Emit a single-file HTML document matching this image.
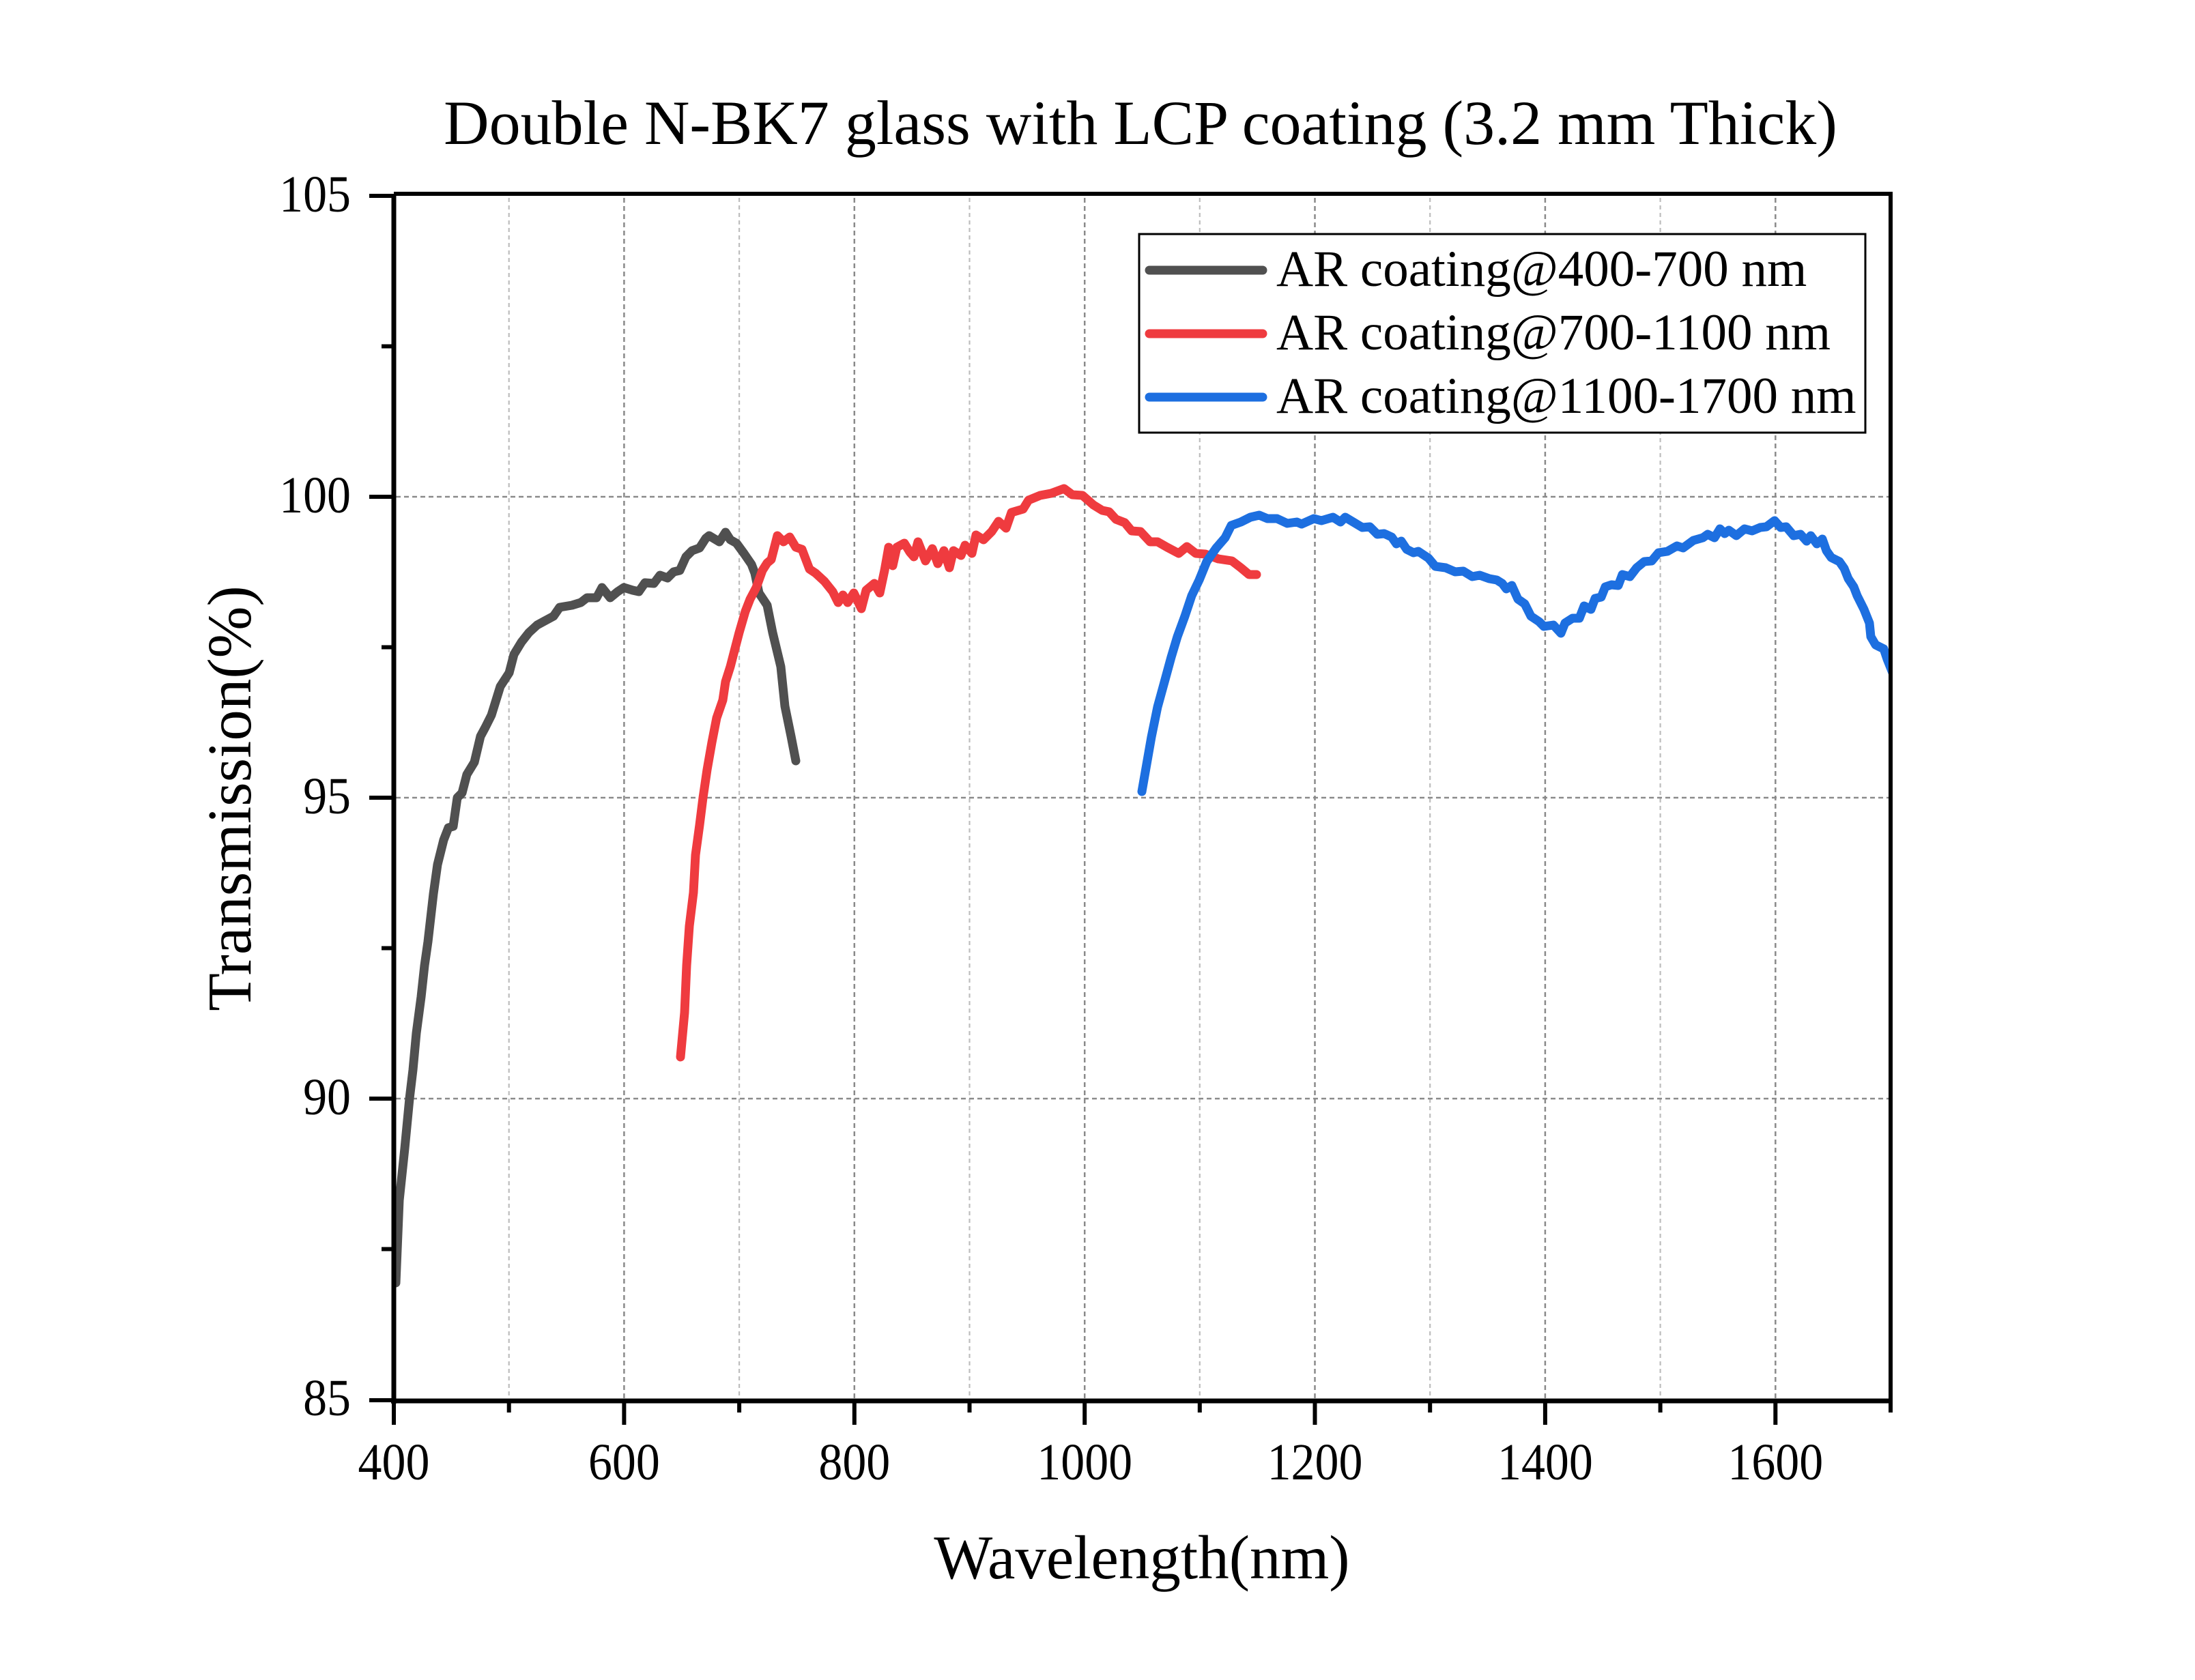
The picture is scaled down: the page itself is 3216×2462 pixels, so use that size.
<!DOCTYPE html>
<html>
<head>
<meta charset="utf-8">
<style>
html,body{margin:0;padding:0;background:#fff;}
svg{display:block;}
text{font-family:"Liberation Serif","Times New Roman",serif;fill:#000;}
</style>
</head>
<body>
<svg width="3216" height="2462" viewBox="0 0 3216 2462" xmlns="http://www.w3.org/2000/svg">
<rect x="0" y="0" width="3216" height="2462" fill="#fff"/>
<defs>
<clipPath id="pc"><rect x="577" y="287" width="2193" height="1766"/></clipPath>
</defs>

<!-- minor vertical grid -->
<g stroke="#bdbdbd" stroke-width="2.2" stroke-dasharray="6,5" fill="none">
<line x1="745.7" y1="290" x2="745.7" y2="2050"/>
<line x1="1083.1" y1="290" x2="1083.1" y2="2050"/>
<line x1="1420.5" y1="290" x2="1420.5" y2="2050"/>
<line x1="1757.8" y1="290" x2="1757.8" y2="2050"/>
<line x1="2095.2" y1="290" x2="2095.2" y2="2050"/>
<line x1="2432.6" y1="290" x2="2432.6" y2="2050"/>
</g>
<!-- major grid -->
<g stroke="#8a8a8a" stroke-width="2.5" stroke-dasharray="7,5" fill="none">
<line x1="914.4" y1="290" x2="914.4" y2="2050"/>
<line x1="1251.8" y1="290" x2="1251.8" y2="2050"/>
<line x1="1589.2" y1="290" x2="1589.2" y2="2050"/>
<line x1="1926.5" y1="290" x2="1926.5" y2="2050"/>
<line x1="2263.9" y1="290" x2="2263.9" y2="2050"/>
<line x1="2601.3" y1="290" x2="2601.3" y2="2050"/>
<line x1="580" y1="728" x2="2767" y2="728"/>
<line x1="580" y1="1169" x2="2767" y2="1169"/>
<line x1="580" y1="1610" x2="2767" y2="1610"/>
</g>

<!-- series -->
<g fill="none" stroke-width="13" stroke-linejoin="round" stroke-linecap="round">
<polyline stroke="#505050" points="580,1880 585,1759 593,1683 600,1610 605,1568 610,1514 617,1461 622,1415 627,1380 635,1310 641,1267 650,1231 657,1213 664,1211 670,1169 677,1162 684,1135 695,1117 704,1079 711,1066 720,1048 733,1006 746,986 753,959 764,941 775,927 787,916 798,910 811,903 820,890 838,887 851,883 860,876 874,876 882,861 894,876 905,867 914,861 927,865 936,867 945,854 958,855 967,843 978,847 987,838 996,836 1005,816 1014,807 1025,803 1034,789 1039,785 1054,794 1063,780 1070,791 1079,796 1090,811 1101,827 1106,840 1112,869 1124,887 1132,927 1144,977 1150,1035 1159,1079 1166,1115"/>
<polyline stroke="#ef3b3f" points="997,1549 1003,1484 1006,1415 1010,1357 1016,1308 1019,1253 1025,1209 1030,1169 1036,1128 1043,1088 1050,1052 1059,1026 1063,999 1070,977 1077,950 1083,927 1092,896 1099,878 1108,861 1117,836 1124,825 1130,820 1139,785 1148,794 1157,787 1166,802 1175,805 1186,834 1195,840 1208,852 1220,867 1228,883 1235,872 1242,883 1251,869 1262,892 1269,865 1281,855 1289,869 1296,836 1302,802 1308,829 1314,802 1325,796 1333,809 1339,816 1345,794 1356,822 1366,804 1374,826 1383,807 1391,832 1397,807 1408,814 1414,799 1424,811 1430,784 1441,791 1453,779 1463,764 1474,774 1482,751 1499,746 1507,733 1524,726 1540,723 1559,716 1571,725 1586,726 1602,740 1615,748 1625,750 1635,761 1648,766 1658,778 1671,779 1685,794 1696,794 1710,802 1727,811 1739,801 1752,811 1766,812 1785,819 1805,822 1818,832 1830,842 1841,842"/>
<polyline clip-path="url(#pc)" stroke="#1d6fe0" points="1673,1160 1680,1120 1687,1080 1696,1036 1707,996 1716,963 1725,933 1736,903 1746,873 1757,850 1768,823 1782,803 1795,788 1804,770 1818,765 1832,758 1845,755 1857,760 1871,760 1886,767 1900,765 1907,768 1925,760 1936,763 1953,758 1964,765 1971,758 1986,767 1996,773 2007,772 2018,783 2028,782 2039,787 2046,797 2053,793 2061,805 2071,810 2078,808 2093,818 2103,830 2118,832 2132,838 2144,837 2157,845 2168,843 2182,848 2193,850 2201,855 2207,863 2215,858 2224,878 2234,885 2243,903 2255,911 2262,918 2276,916 2287,928 2293,913 2304,906 2314,906 2321,888 2331,893 2337,877 2346,875 2352,860 2361,857 2371,858 2377,842 2388,845 2398,832 2409,823 2420,822 2430,810 2443,808 2457,800 2466,803 2481,792 2495,788 2502,783 2512,788 2520,775 2527,782 2533,777 2544,785 2556,775 2567,778 2579,773 2588,772 2600,763 2609,773 2617,772 2628,785 2638,783 2647,793 2653,785 2662,797 2670,790 2676,807 2683,817 2695,823 2702,833 2708,848 2716,860 2721,873 2731,893 2739,913 2741,933 2748,945 2760,951 2765,966 2773,986 2780,1005"/>
</g>

<!-- axes -->
<g stroke="#000" fill="none">
<line x1="577" y1="284" x2="2773" y2="284" stroke-width="6"/>
<line x1="2770" y1="284" x2="2770" y2="2056" stroke-width="6"/>
<line x1="577" y1="284" x2="577" y2="2057" stroke-width="7"/>
<line x1="573" y1="2053" x2="2773" y2="2053" stroke-width="7"/>
<g stroke-width="6">
<line x1="577" y1="2053" x2="577" y2="2088"/>
<line x1="914.4" y1="2053" x2="914.4" y2="2088"/>
<line x1="1251.8" y1="2053" x2="1251.8" y2="2088"/>
<line x1="1589.2" y1="2053" x2="1589.2" y2="2088"/>
<line x1="1926.5" y1="2053" x2="1926.5" y2="2088"/>
<line x1="2263.9" y1="2053" x2="2263.9" y2="2088"/>
<line x1="2601.3" y1="2053" x2="2601.3" y2="2088"/>
<line x1="745.7" y1="2053" x2="745.7" y2="2070"/>
<line x1="1083.1" y1="2053" x2="1083.1" y2="2070"/>
<line x1="1420.5" y1="2053" x2="1420.5" y2="2070"/>
<line x1="1757.8" y1="2053" x2="1757.8" y2="2070"/>
<line x1="2095.2" y1="2053" x2="2095.2" y2="2070"/>
<line x1="2432.6" y1="2053" x2="2432.6" y2="2070"/>
<line x1="2770" y1="2053" x2="2770" y2="2070"/>
<line x1="541" y1="287" x2="577" y2="287"/>
<line x1="541" y1="728" x2="577" y2="728"/>
<line x1="541" y1="1169" x2="577" y2="1169"/>
<line x1="541" y1="1610" x2="577" y2="1610"/>
<line x1="541" y1="2052" x2="577" y2="2052"/>
<line x1="559" y1="507.5" x2="577" y2="507.5"/>
<line x1="559" y1="948.5" x2="577" y2="948.5"/>
<line x1="559" y1="1389.5" x2="577" y2="1389.5"/>
<line x1="559" y1="1830.5" x2="577" y2="1830.5"/>
</g>
</g>

<!-- tick labels -->
<g font-size="76">
<text transform="translate(577,2168) scale(0.92,1)" text-anchor="middle">400</text>
<text transform="translate(914.4,2168) scale(0.92,1)" text-anchor="middle">600</text>
<text transform="translate(1251.8,2168) scale(0.92,1)" text-anchor="middle">800</text>
<text transform="translate(1589.2,2168) scale(0.92,1)" text-anchor="middle">1000</text>
<text transform="translate(1926.5,2168) scale(0.92,1)" text-anchor="middle">1200</text>
<text transform="translate(2263.9,2168) scale(0.92,1)" text-anchor="middle">1400</text>
<text transform="translate(2601.3,2168) scale(0.92,1)" text-anchor="middle">1600</text>
<text transform="translate(514,310) scale(0.92,1)" text-anchor="end">105</text>
<text transform="translate(514,751) scale(0.92,1)" text-anchor="end">100</text>
<text transform="translate(514,1192) scale(0.92,1)" text-anchor="end">95</text>
<text transform="translate(514,1633) scale(0.92,1)" text-anchor="end">90</text>
<text transform="translate(514,2074) scale(0.92,1)" text-anchor="end">85</text>
</g>

<!-- titles -->
<text x="1671" y="211" font-size="92" text-anchor="middle">Double N-BK7 glass with LCP coating (3.2 mm Thick)</text>
<text x="1673" y="2313" font-size="91" text-anchor="middle">Wavelength(nm)</text>
<text transform="translate(367,1170) rotate(-90)" font-size="91" text-anchor="middle">Transmission(%)</text>

<!-- legend -->
<rect x="1669" y="343" width="1064" height="291" fill="#fff" stroke="#000" stroke-width="3"/>
<g stroke-width="13" stroke-linecap="round">
<line x1="1684" y1="396" x2="1850" y2="396" stroke="#505050"/>
<line x1="1684" y1="489" x2="1850" y2="489" stroke="#ef3b3f"/>
<line x1="1684" y1="582" x2="1850" y2="582" stroke="#1d6fe0"/>
</g>
<g font-size="75">
<text x="1870" y="419">AR coating@400-700 nm</text>
<text x="1870" y="512">AR coating@700-1100 nm</text>
<text x="1870" y="605">AR coating@1100-1700 nm</text>
</g>
</svg>
</body>
</html>
